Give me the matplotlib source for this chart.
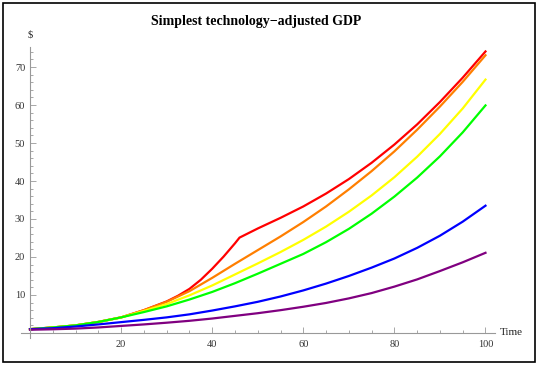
import matplotlib
matplotlib.use("Agg")
import matplotlib.pyplot as plt
from matplotlib.patches import Rectangle
from matplotlib.ticker import MultipleLocator, FixedLocator

# ---- data ----
time = [0, 5, 10, 15, 20, 25, 30, 35, 40, 45, 50, 55, 60, 65, 70, 75, 80, 85, 90, 95, 100]

red_time = [0, 5, 10, 15, 20, 25, 30, 32.5, 35, 37.5, 40, 42.5, 45, 46,
            50, 55, 60, 65, 70, 75, 80, 85, 90, 95, 100]
red = [1.0, 1.45, 2.0, 2.9, 4.1, 6.0, 8.3, 9.8, 11.6, 14.0, 16.9, 20.1, 23.6, 25.1,
       27.5, 30.3, 33.3, 36.7, 40.5, 44.8, 49.6, 54.9, 60.8, 67.2, 74.1]
orange = [1.0, 1.45, 2.0, 2.9, 4.1, 6.0, 8.2, 11.0, 14.5, 18.2, 21.8, 25.4, 29.2, 33.3, 37.8,
          42.6, 47.8, 53.5, 59.6, 66.1, 73.1]
yellow = [1.0, 1.45, 2.0, 2.9, 4.1, 5.8, 7.6, 9.9, 12.5, 15.4, 18.3, 21.3, 24.5, 28.0, 31.9,
          36.2, 41.0, 46.4, 52.4, 59.1, 66.7]
green = [1.0, 1.45, 2.0, 2.9, 4.1, 5.5, 7.0, 8.8, 10.8, 13.1, 15.6, 18.2, 20.8, 23.9, 27.4,
         31.4, 35.9, 40.9, 46.5, 52.8, 59.9]
blue = [1.0, 1.25, 1.7, 2.25, 2.85, 3.45, 4.1, 4.9, 5.9, 7.0, 8.2, 9.6, 11.2, 13.0, 15.0,
        17.2, 19.6, 22.4, 25.6, 29.3, 33.5]
purple = [0.85, 0.97, 1.15, 1.45, 1.85, 2.25, 2.7, 3.2, 3.8, 4.5, 5.2, 6.0, 6.9, 7.9, 9.1,
          10.5, 12.2, 14.1, 16.3, 18.6, 21.1]

x_ticks = [20, 40, 60, 80, 100]
y_ticks = [10, 20, 30, 40, 50, 60, 70]
title = "Simplest technology\u2212adjusted GDP"

# ---- figure ----
W, H = 539, 365
fig = plt.figure(figsize=(W / 100, H / 100), dpi=100)
serif = ["Liberation Serif", "DejaVu Serif"]

ax = fig.add_axes([20.9 / W, (H - 337.9) / H, (494.6 - 20.9) / W, (337.9 - 46.9) / H])
ax.set_xlim(-2.0, 102.0)
ax.set_ylim(-1.3, 75.3)

lw = 1.6
ax.plot(red_time, red, color="#FF0000", lw=lw, solid_joinstyle="miter")
ax.plot(time, orange, color="#FF7F00", lw=lw)
ax.plot(time, yellow, color="#FFFF00", lw=lw)
ax.plot(time, green, color="#00FF00", lw=lw)
ax.plot(time, blue, color="#0000FF", lw=lw)
ax.plot(time, purple, color="#800080", lw=lw)

for s in ("top", "right"):
    ax.spines[s].set_visible(False)
for s in ("left", "bottom"):
    ax.spines[s].set_position(("data", 0))
    ax.spines[s].set_color("#999999")
    ax.spines[s].set_linewidth(0.8)

ax.xaxis.set_major_locator(FixedLocator(x_ticks))
ax.yaxis.set_major_locator(FixedLocator(y_ticks))
ax.xaxis.set_minor_locator(MultipleLocator(5))
ax.yaxis.set_minor_locator(MultipleLocator(2))
ax.tick_params(which="both", direction="in", color="#999999", width=0.6,
               labelsize=7.5, labelcolor="#333333")
ax.tick_params(which="major", length=4)
ax.tick_params(which="minor", length=2.2)
ax.tick_params(axis="x", pad=5)
ax.tick_params(axis="y", pad=3.5)
for lab in ax.get_xticklabels() + ax.get_yticklabels():
    lab.set_family(serif)

ax.text(103.2, 0, "Time", ha="left", va="center", fontsize=8, family=serif, color="#222222")
ax.text(0, 78.5, "$", ha="center", va="center", fontsize=7.5, family=serif, color="#222222")
fig.text(256.5 / W, 1 - 21 / H, title, ha="center", va="center", fontsize=10,
         fontweight="bold", family=serif)

fig.patches.append(Rectangle((3 / W, 3 / H), 532 / W, 359 / H, transform=fig.transFigure,
                             fill=False, edgecolor="black", lw=1.2))

fig.savefig("out.png", dpi=100)
